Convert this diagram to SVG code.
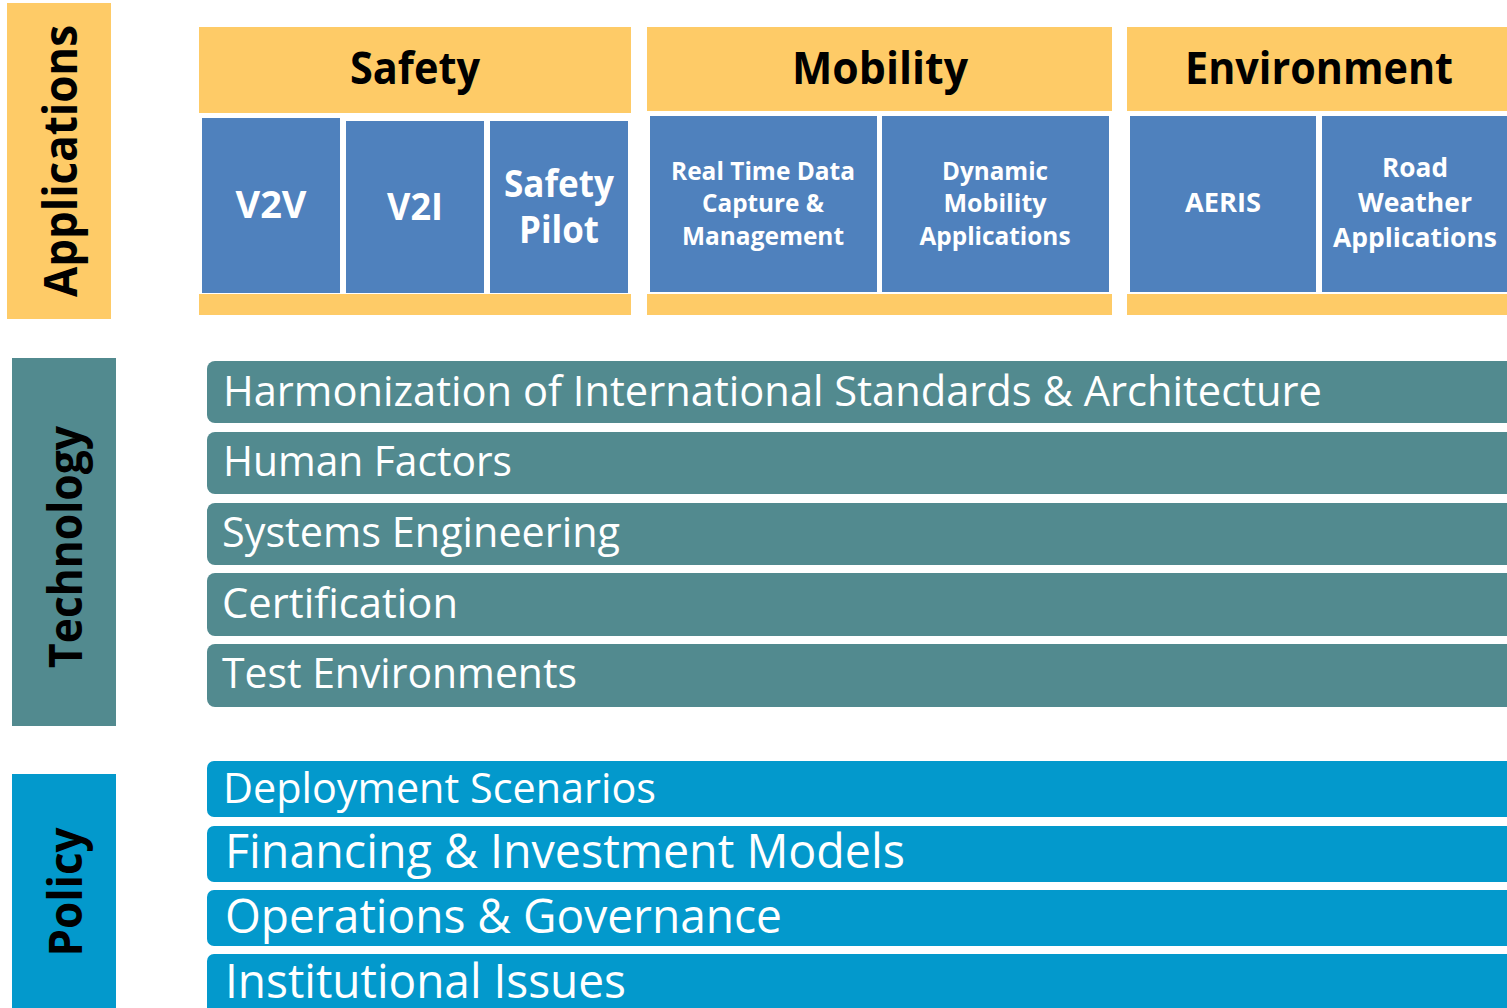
<svg xmlns="http://www.w3.org/2000/svg" width="1507" height="1008" viewBox="0 0 1507 1008">
<style>
.yel{fill:#FECB67}
.blu{fill:#4F81BD}
.teal{fill:#528A8F}
.pol{fill:#0399CC}
.side{font-family:"Open Sans","Noto Sans","Liberation Sans",sans-serif;font-weight:bold;fill:#000}
.hdr{font-family:"Open Sans","Noto Sans","Liberation Sans",sans-serif;font-weight:bold;fill:#000;font-size:44px;text-anchor:middle}
.box{font-family:"Open Sans","Noto Sans","Liberation Sans",sans-serif;font-weight:bold;fill:#fff;text-anchor:middle}
.bar{font-family:"Open Sans","Noto Sans","Liberation Sans",sans-serif;fill:#fff}
</style>
<rect width="1507" height="1008" fill="#fff"/>

<g id="applications">
<rect class="yel" x="7" y="3" width="104" height="316"/>
<text class="side" font-size="46" transform="translate(77,161) rotate(-90)" text-anchor="middle" textLength="272" lengthAdjust="spacingAndGlyphs">Applications</text>
</g>

<g id="safety">
<rect class="yel" x="199" y="27" width="432" height="86"/>
<text class="hdr" x="415" y="84" textLength="130" lengthAdjust="spacingAndGlyphs">Safety</text>
<rect class="yel" x="199" y="294" width="432" height="21"/>
</g>
<g id="v2v">
<rect class="blu" x="202" y="118" width="138" height="175"/>
<text class="box" x="271" y="218" font-size="37" textLength="71" lengthAdjust="spacingAndGlyphs">V2V</text>
</g>
<g id="v2i">
<rect class="blu" x="346" y="121" width="138" height="172"/>
<text class="box" x="415" y="220" font-size="37" textLength="56" lengthAdjust="spacingAndGlyphs">V2I</text>
</g>
<g id="safety-pilot">
<rect class="blu" x="490" y="121" width="138" height="172"/>
<text class="box" x="559" y="197" font-size="37" textLength="110" lengthAdjust="spacingAndGlyphs">Safety</text>
<text class="box" x="559" y="243" font-size="37" textLength="80" lengthAdjust="spacingAndGlyphs">Pilot</text>
</g>

<g id="mobility">
<rect class="yel" x="647" y="27" width="465" height="84"/>
<text class="hdr" x="880" y="84" textLength="176" lengthAdjust="spacingAndGlyphs">Mobility</text>
<rect class="yel" x="647" y="294" width="465" height="21"/>
</g>
<g id="real-time-data">
<rect class="blu" x="650" y="116" width="227" height="176"/>
<text class="box" x="763" y="180" font-size="25" textLength="184" lengthAdjust="spacingAndGlyphs">Real Time Data</text>
<text class="box" x="763" y="212" font-size="25" textLength="122" lengthAdjust="spacingAndGlyphs">Capture &amp;</text>
<text class="box" x="763" y="245" font-size="25" textLength="162" lengthAdjust="spacingAndGlyphs">Management</text>
</g>
<g id="dynamic-mobility">
<rect class="blu" x="882" y="116" width="227" height="176"/>
<text class="box" x="995" y="180" font-size="25" textLength="106" lengthAdjust="spacingAndGlyphs">Dynamic</text>
<text class="box" x="995" y="212" font-size="25" textLength="103" lengthAdjust="spacingAndGlyphs">Mobility</text>
<text class="box" x="995" y="245" font-size="25" textLength="151" lengthAdjust="spacingAndGlyphs">Applications</text>
</g>

<g id="environment">
<rect class="yel" x="1127" y="27" width="380" height="84"/>
<text class="hdr" x="1319" y="84" textLength="268" lengthAdjust="spacingAndGlyphs">Environment</text>
<rect class="yel" x="1127" y="294" width="380" height="21"/>
</g>
<g id="aeris">
<rect class="blu" x="1130" y="116" width="186" height="176"/>
<text class="box" x="1223" y="212" font-size="26" textLength="76" lengthAdjust="spacingAndGlyphs">AERIS</text>
</g>
<g id="road-weather">
<rect class="blu" x="1322" y="116" width="185" height="176"/>
<text class="box" x="1415" y="177" font-size="27" textLength="66" lengthAdjust="spacingAndGlyphs">Road</text>
<text class="box" x="1415" y="212" font-size="27" textLength="114" lengthAdjust="spacingAndGlyphs">Weather</text>
<text class="box" x="1415" y="247" font-size="27" textLength="164" lengthAdjust="spacingAndGlyphs">Applications</text>
</g>

<g id="technology">
<rect class="teal" x="12" y="358" width="104" height="368"/>
<text class="side" font-size="46" transform="translate(82,547) rotate(-90)" text-anchor="middle" textLength="242" lengthAdjust="spacingAndGlyphs">Technology</text>
</g>
<g id="harmonization">
<rect class="teal" x="207" y="361" width="1310" height="62" rx="8"/>
<text class="bar" x="223" y="406" font-size="42" textLength="1099" lengthAdjust="spacingAndGlyphs">Harmonization of International Standards &amp; Architecture</text>
</g>
<g id="human-factors">
<rect class="teal" x="207" y="432" width="1310" height="62" rx="8"/>
<text class="bar" x="223" y="476" font-size="42" textLength="289" lengthAdjust="spacingAndGlyphs">Human Factors</text>
</g>
<g id="systems-engineering">
<rect class="teal" x="207" y="503" width="1310" height="62" rx="8"/>
<text class="bar" x="222" y="547" font-size="42" textLength="398" lengthAdjust="spacingAndGlyphs">Systems Engineering</text>
</g>
<g id="certification">
<rect class="teal" x="207" y="573" width="1310" height="63" rx="8"/>
<text class="bar" x="222" y="618" font-size="42" textLength="236" lengthAdjust="spacingAndGlyphs">Certification</text>
</g>
<g id="test-environments">
<rect class="teal" x="207" y="644" width="1310" height="63" rx="8"/>
<text class="bar" x="222" y="688" font-size="42" textLength="355" lengthAdjust="spacingAndGlyphs">Test Environments</text>
</g>

<g id="policy">
<rect class="pol" x="12" y="774" width="104" height="240"/>
<text class="side" font-size="46" transform="translate(82,892) rotate(-90)" text-anchor="middle" textLength="129" lengthAdjust="spacingAndGlyphs">Policy</text>
</g>
<g id="deployment">
<rect class="pol" x="207" y="761" width="1310" height="56" rx="7"/>
<text class="bar" x="223" y="803" font-size="42" textLength="433" lengthAdjust="spacingAndGlyphs">Deployment Scenarios</text>
</g>
<g id="financing">
<rect class="pol" x="207" y="826" width="1310" height="56" rx="7"/>
<text class="bar" x="225" y="868" font-size="48" textLength="680" lengthAdjust="spacingAndGlyphs">Financing &amp; Investment Models</text>
</g>
<g id="operations">
<rect class="pol" x="207" y="890" width="1310" height="56" rx="7"/>
<text class="bar" x="225" y="933" font-size="48" textLength="557" lengthAdjust="spacingAndGlyphs">Operations &amp; Governance</text>
</g>
<g id="institutional">
<rect class="pol" x="207" y="954" width="1310" height="70" rx="7"/>
<text class="bar" x="225" y="998" font-size="48" textLength="401" lengthAdjust="spacingAndGlyphs">Institutional Issues</text>
</g>
<g id="connectors"></g>
</svg>
